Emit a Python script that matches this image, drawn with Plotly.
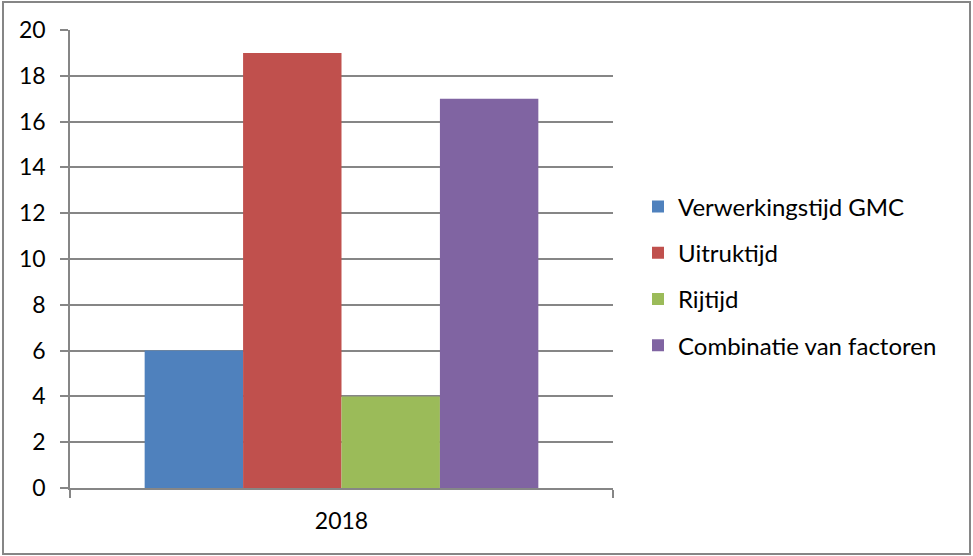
import plotly.graph_objects as go

# ---- data ----
category = ["2018"]
series_names = ["Verwerkingstijd GMC", "Uitruktijd", "Rijtijd", "Combinatie van factoren"]
series_values = [6, 19, 4, 17]
series_colors = ["#4f81bd", "#c0504d", "#9bbb59", "#8064a2"]

W, H = 973, 556
L, R, T, B = 70, 360, 30, 68
axis_grey = "#868686"
font_family = "Lato, 'Open Sans', sans-serif"

fig = go.Figure()
for name, val, col in zip(series_names, series_values, series_colors):
    fig.add_trace(go.Bar(
        x=category,
        y=[val],
        name=name,
        marker_color=col,
        marker_line_width=0,
        legendgroup=name,
    ))

pw = W - L - R
ph = H - T - B

fig.update_layout(
    width=W,
    height=H,
    margin=dict(l=L, r=R, t=T, b=B),
    barmode="group",
    bargap=0.275,
    bargroupgap=0,
    plot_bgcolor="white",
    paper_bgcolor="white",
    font=dict(family=font_family, size=23, color="black"),
    legend=dict(
        x=(638 - L) / pw,
        xanchor="left",
        y=(H - B - 276) / ph,
        yanchor="middle",
        tracegroupgap=12,
        font=dict(size=24),
    ),
    shapes=[dict(
        type="rect", xref="paper", yref="paper",
        x0=(3 - L) / pw, x1=(970 - L) / pw,
        y0=(H - B - 554) / ph, y1=(H - B - 2) / ph,
        line=dict(color=axis_grey, width=2),
        layer="below",
    )],
)

fig.update_xaxes(
    type="category",
    tickson="boundaries",
    ticks="outside",
    ticklen=8,
    tickcolor=axis_grey,
    tickwidth=1.5,
    showline=True,
    linecolor=axis_grey,
    linewidth=1.5,
    showgrid=False,
    ticklabelstandoff=12,
)
fig.update_yaxes(
    range=[0, 20],
    dtick=2,
    ticks="outside",
    ticklen=8,
    tickcolor=axis_grey,
    tickwidth=1.5,
    showline=True,
    linecolor=axis_grey,
    linewidth=1.5,
    showgrid=True,
    gridcolor=axis_grey,
    gridwidth=1.5,
    zeroline=False,
    ticklabelstandoff=10,
)

# drop the default page margin so the figure sits at the window's corner
fig.write_html(
    "out.html",
    config={"displayModeBar": False},
    post_script="document.body.style.margin='0';",
)
